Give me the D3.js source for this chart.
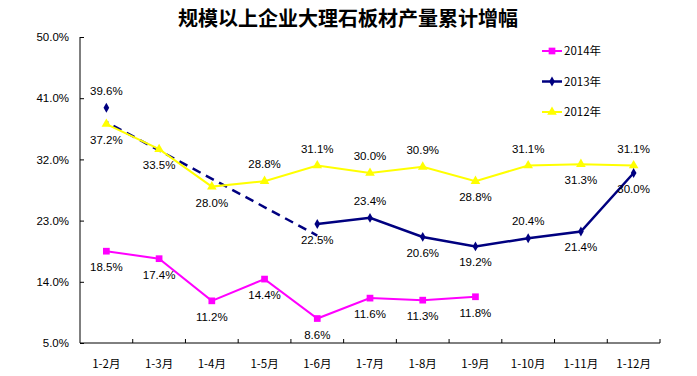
<!DOCTYPE html>
<html>
<head>
<meta charset="utf-8">
<script src="https://cdn.jsdelivr.net/npm/d3@7"></script>
<style>
  body { margin: 0; background: #fff; }
  svg { display: block; }
  text { font-family: 'Liberation Sans', Arial, sans-serif; }
</style>
</head>
<body>
<svg width="697" height="376"></svg>
<script>
let months = ['1-2月', '1-3月', '1-4月', '1-5月', '1-6月', '1-7月', '1-8月', '1-9月', '1-10月', '1-11月', '1-12月']
let yTicks = [5, 14, 23, 32, 41, 50]

let v2014 = [18.5, 17.4, 11.2, 14.4, 8.6, 11.6, 11.3, 11.8]
let v2013 = [39.6, null, null, null, 22.5, 23.4, 20.6, 19.2, 20.4, 21.4, 30.0]
let v2012 = [37.2, 33.5, 28.0, 28.8, 31.1, 30.0, 30.9, 28.8, 31.1, 31.3, 31.1]

// label side: 1 = above, -1 = below
let pos2014 = [-1, -1, -1, -1, -1, -1, -1, -1]
let pos2013 = [1, 0, 0, 0, -1, 1, -1, -1, 1, -1, -1]
let pos2012 = [-1, -1, -1, 1, 1, 1, 1, -1, 1, -1, 1]

// hand-drawn dashed connector over the 2013 gap
let gapMonths = ['1-2月', '1-6月']
let gapValues = [37.5, 20.8]

let width = 697
let height = 376
let margin = { top: 37, bottom: 33, left: 80, right: 37 }

let svg = d3.select('svg')

let xScale = d3.scaleBand()
  .domain(months)
  .range([margin.left, width - margin.right])

let yScale = d3.scaleLinear()
  .domain([5, 50])
  .range([height - margin.bottom, margin.top])

let cx = m => xScale(m) + xScale.bandwidth() / 2

// title
svg.append('text')
  .attr('x', 348)
  .attr('y', 26)
  .attr('text-anchor', 'middle')
  .style('font-family', "'Noto Sans CJK SC', sans-serif")
  .style('font-weight', 'bold')
  .style('font-size', '20px')
  .text('规模以上企业大理石板材产量累计增幅')

// axes
let xAxis = d3.axisBottom(xScale).tickSize(-4).tickFormat('')
let gx = svg.append('g')
  .attr('transform', 'translate(0,' + (height - margin.bottom) + ')')
  .call(xAxis)
gx.select('.domain').attr('d', 'M' + margin.left + ',0H' + (width - margin.right))
// boundary ticks between categories
gx.selectAll('.tick').remove()
gx.selectAll('.btick')
  .data(months)
  .enter()
  .append('line')
  .attr('x1', d => xScale(d) + xScale.bandwidth())
  .attr('x2', d => xScale(d) + xScale.bandwidth())
  .attr('y1', 0)
  .attr('y2', -4)
  .attr('stroke', '#000')
gx.selectAll('.xlab')
  .data(months)
  .enter()
  .append('text')
  .attr('x', d => cx(d))
  .attr('y', 25)
  .attr('text-anchor', 'middle')
  .attr('fill', '#000')
  .style('font-family', "'Noto Sans CJK SC', sans-serif")
  .style('font-size', '11.5px')
  .text(d => d)

let yAxis = d3.axisLeft(yScale).tickValues(yTicks).tickSize(-4).tickPadding(11)
  .tickFormat(d => d.toFixed(1) + '%')
let gy = svg.append('g')
  .attr('transform', 'translate(' + margin.left + ',0)')
  .call(yAxis)
gy.select('.domain').attr('d', 'M0,' + yScale(50) + 'V' + yScale(5))
gy.selectAll('text').style('font-size', '11.5px')

// series
let series = [
  { name: '2012年', values: v2012, pos: pos2012, color: '#FFFF00', shape: d3.symbolTriangle, size: 40, width: 2 },
  { name: '2013年', values: v2013, pos: pos2013, color: '#000080', shape: d3.symbolDiamond, size: 28, width: 2.5 },
  { name: '2014年', values: v2014, pos: pos2014, color: '#FF00FF', shape: d3.symbolSquare, size: 45, width: 2 }
]

// dashed gap line
svg.append('path')
  .datum(gapMonths.map((m, i) => ({ m: m, v: gapValues[i] })))
  .attr('d', d3.line().x(d => cx(d.m)).y(d => yScale(d.v)))
  .attr('fill', 'none')
  .attr('stroke', '#000080')
  .attr('stroke-width', 2.5)
  .attr('stroke-dasharray', '9,6')
  .attr('stroke-dashoffset', -8)

series.forEach(s => {
  let pts = s.values.map((v, i) => ({ m: months[i], v: v, p: s.pos[i] }))
  let line = d3.line()
    .defined(d => d.v != null)
    .x(d => cx(d.m))
    .y(d => yScale(d.v))
  svg.append('path')
    .datum(pts)
    .attr('d', line)
    .attr('fill', 'none')
    .attr('stroke', s.color)
    .attr('stroke-width', s.width)
  let valid = pts.filter(d => d.v != null)
  svg.selectAll(null)
    .data(valid)
    .enter()
    .append('path')
    .attr('d', d3.symbol().type(s.shape).size(s.size))
    .attr('transform', d => 'translate(' + cx(d.m) + ',' + yScale(d.v) + ')')
    .attr('fill', s.color)
  s.pts = valid
})

// labels on top
series.forEach(s => {
  svg.selectAll(null)
    .data(s.pts)
    .enter()
    .append('text')
    .attr('x', d => cx(d.m))
    .attr('y', d => yScale(d.v) + (d.p > 0 ? -13 : 20))
    .attr('text-anchor', 'middle')
    .style('font-size', '11.5px')
    .text(d => d.v.toFixed(1) + '%')
})

// legend
let legendItems = [series[2], series[1], series[0]]
let lg = svg.selectAll('.legend')
  .data(legendItems)
  .enter()
  .append('g')
  .attr('transform', (d, i) => 'translate(542,' + (51 + i * 30.5) + ')')
lg.append('line')
  .attr('x1', 0).attr('x2', 20)
  .attr('stroke', d => d.color)
  .attr('stroke-width', d => d.width)
lg.append('path')
  .attr('d', d => d3.symbol().type(d.shape).size(d.size)())
  .attr('transform', 'translate(10,0)')
  .attr('fill', d => d.color)
lg.append('text')
  .attr('x', 22)
  .attr('y', 4)
  .style('font-family', "'Noto Sans CJK SC', sans-serif")
  .style('font-size', '11.5px')
  .text(d => d.name)
</script>
</body>
</html>
